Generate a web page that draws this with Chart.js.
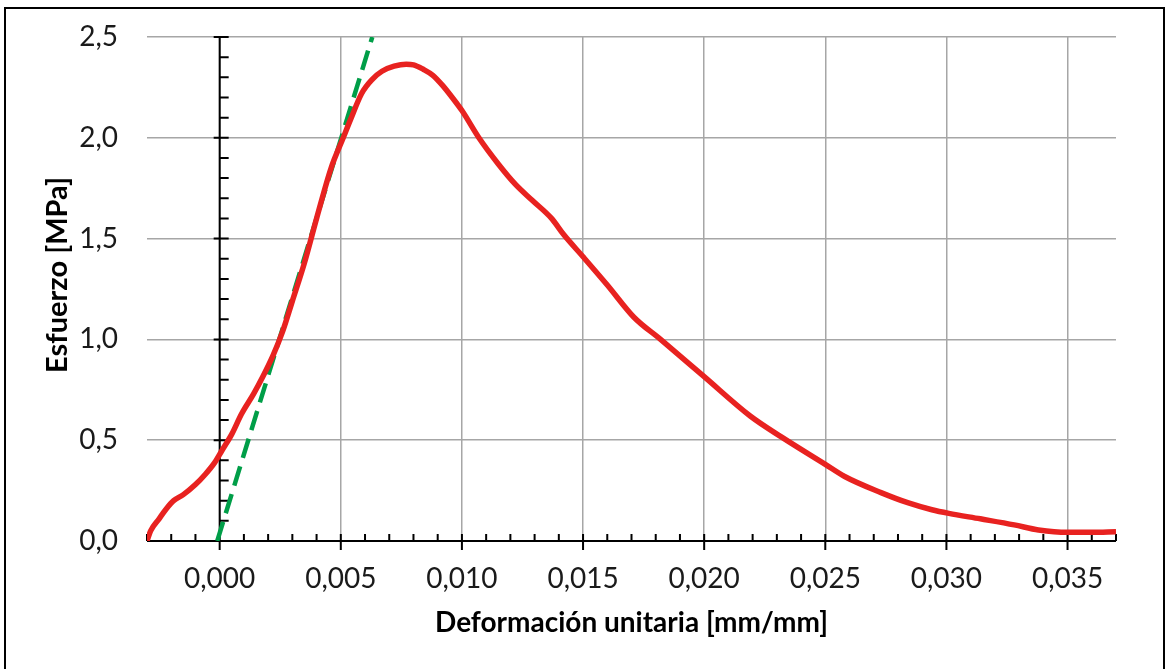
<!DOCTYPE html>
<html>
<head>
<meta charset="utf-8">
<script src="https://cdn.jsdelivr.net/npm/chart.js@4.4.0/dist/chart.umd.min.js"></script>
<style>
  html, body { margin: 0; padding: 0; background: #fff; overflow: hidden; }
  #frame { position: absolute; left: 4px; top: 7px; width: 1161px; height: 720px; border: 2px solid #000; box-sizing: border-box; }
  #wrap { position: absolute; left: 0; top: 0; width: 1171px; height: 669px; }
</style>
</head>
<body>
<div id="frame"></div>
<div id="wrap"><canvas id="chart" width="1171" height="669"></canvas></div>
<script>
// ensayo: deformacion unitaria [mm/mm] vs esfuerzo [MPa]
const strain = [
  -0.0030, -0.00285, -0.0025, -0.0022, -0.0019, -0.0015, -0.0010, -0.0006, -0.0002, 0.0001,
  0.0005, 0.0009, 0.0014, 0.0018, 0.0022, 0.0026, 0.0030, 0.0035, 0.0040, 0.0046,
  0.0051, 0.0054, 0.00586, 0.0063, 0.0067, 0.0072, 0.0077, 0.0080, 0.0084, 0.0088,
  0.0092, 0.0096, 0.0100, 0.0107, 0.0115, 0.0122, 0.0129, 0.0137, 0.0142, 0.0150,
  0.0160, 0.0171, 0.0182, 0.0200, 0.0219, 0.0232, 0.0250, 0.0258, 0.0273, 0.0284,
  0.0294, 0.0301, 0.0314, 0.0328, 0.0338, 0.0350, 0.0360, 0.0370
];
const stress = [
  0.00, 0.05, 0.11, 0.16, 0.20, 0.23, 0.28, 0.33, 0.39, 0.45,
  0.53, 0.63, 0.73, 0.82, 0.92, 1.04, 1.19, 1.38, 1.60, 1.85,
  2.00, 2.09, 2.22, 2.29, 2.33, 2.355, 2.365, 2.362, 2.34, 2.31,
  2.26, 2.20, 2.135, 2.00, 1.87, 1.77, 1.69, 1.60, 1.52, 1.41,
  1.27, 1.11, 1.00, 0.815, 0.62, 0.515, 0.38, 0.32, 0.24, 0.19,
  0.155, 0.137, 0.11, 0.08, 0.055, 0.043, 0.043, 0.046
];
// recta de modulo elastico
const elasticStrain = [-0.0001, 0.0063];
const elasticStress = [0, 2.5];

const xTicks = [0, 0.005, 0.010, 0.015, 0.020, 0.025, 0.030, 0.035];
const yTicks = [0, 0.5, 1.0, 1.5, 2.0, 2.5];

const curve = strain.map((x, i) => ({x: x, y: stress[i]}));
const elastic = elasticStrain.map((x, i) => ({x: x, y: elasticStress[i]}));

const fontFam = "Lato, 'Open Sans', sans-serif";

// ejes negros que cruzan en el origen con marcas menores
const crossAxes = {
  id: 'crossAxes',
  beforeDatasetsDraw(chart) {
    const {ctx, chartArea: a, scales: {x, y}} = chart;
    const x0 = x.getPixelForValue(0);
    const y0 = y.getPixelForValue(0);
    ctx.save();
    ctx.strokeStyle = '#000';
    ctx.lineWidth = 2;
    ctx.beginPath();
    ctx.moveTo(a.left, y0); ctx.lineTo(a.right, y0);
    ctx.moveTo(x0, a.bottom); ctx.lineTo(x0, a.top);
    // marcas en x cada 0.001
    for (let k = Math.ceil(x.min / 0.001); k <= Math.floor(x.max / 0.001 + 1e-9); k++) {
      const px = x.getPixelForValue(k * 0.001);
      const major = k % 5 === 0;
      ctx.moveTo(px, y0 - 7);
      ctx.lineTo(px, y0 + (major ? 9 : 0));
    }
    // marcas en y cada 0.1
    for (let k = 0; k <= Math.round(y.max / 0.1); k++) {
      const py = y.getPixelForValue(k * 0.1);
      const major = k % 5 === 0;
      ctx.moveTo(x0 - (major ? 6 : 0), py);
      ctx.lineTo(x0 + 9, py);
    }
    ctx.stroke();
    ctx.restore();
  }
};

new Chart(document.getElementById('chart'), {
  type: 'scatter',
  data: {
    datasets: [
      {
        label: 'Esfuerzo',
        data: curve,
        showLine: true,
        borderColor: 'rgb(232, 34, 32)',
        borderWidth: 5.5,
        pointRadius: 0,
        cubicInterpolationMode: 'monotone'
      },
      {
        label: 'Módulo elástico',
        data: elastic,
        showLine: true,
        borderColor: 'rgb(0, 158, 72)',
        borderWidth: 4.5,
        borderDash: [20, 9],
        pointRadius: 0
      }
    ]
  },
  options: {
    responsive: false,
    animation: false,
    layout: { padding: { left: 0, top: 37, right: 55, bottom: 0 } },
    plugins: { legend: { display: false }, tooltip: { enabled: false } },
    scales: {
      x: {
        type: 'linear',
        min: -0.003,
        max: 0.037,
        afterBuildTicks: s => { s.ticks = xTicks.map(v => ({value: v})); },
        afterFit: s => { s.height = 128; },
        grid: { color: '#a6a6a6', lineWidth: 1.5, drawTicks: false },
        border: { display: false },
        ticks: {
          padding: 21,
          color: '#1a1a1a',
          font: { family: fontFam, size: 28 },
          maxRotation: 0,
          callback: v => v.toFixed(3).replace('.', ',')
        },
        title: {
          display: true,
          text: 'Deformación unitaria [mm/mm]',
          color: '#000',
          font: { family: fontFam, size: 28, weight: 'bold' },
          padding: { top: 0, bottom: 29 }
        }
      },
      y: {
        min: 0,
        max: 2.5,
        afterBuildTicks: s => { s.ticks = yTicks.map(v => ({value: v})); },
        afterFit: s => { s.width = 147; s.paddingTop = 0; s.paddingBottom = 0; },
        grid: { color: '#a6a6a6', lineWidth: 1.5, drawTicks: false },
        border: { display: false },
        ticks: {
          padding: 29,
          color: '#1a1a1a',
          font: { family: fontFam, size: 28 },
          callback: v => v.toFixed(1).replace('.', ',')
        },
        title: {
          display: true,
          text: '    Esfuerzo [MPa]',
          color: '#000',
          font: { family: fontFam, size: 29, weight: 'bold' },
          padding: { top: 40, bottom: 0 }
        }
      }
    }
  },
  plugins: [crossAxes]
});
</script>
</body>
</html>
